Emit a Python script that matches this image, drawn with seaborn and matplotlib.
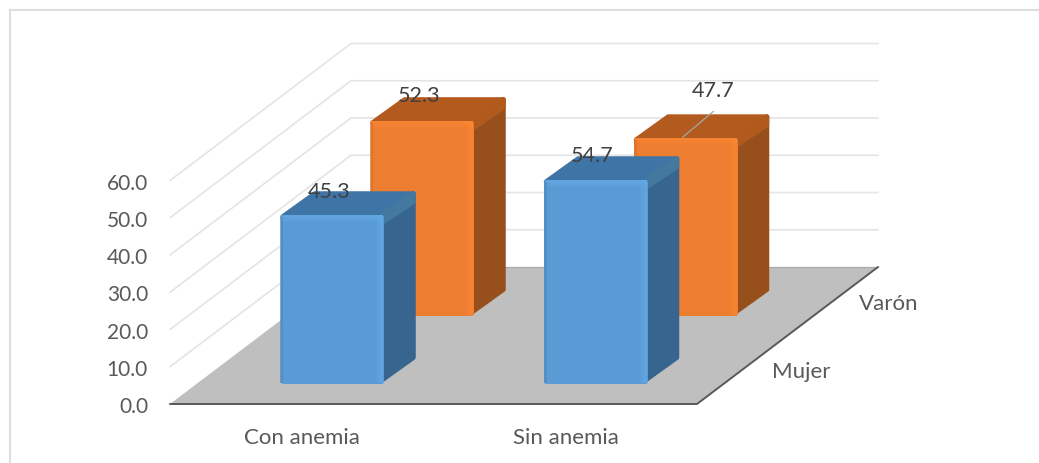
import matplotlib
matplotlib.use("Agg")
import matplotlib.pyplot as plt
import pandas as pd
import seaborn as sns
from matplotlib.lines import Line2D
from matplotlib.patches import Polygon, Rectangle
from matplotlib.transforms import ScaledTranslation

# Chart values
categories = ["Con anemia", "Sin anemia"]
sexes = ["Mujer", "Varón"]
mujer_values = [45.3, 54.7]
varon_values = [52.3, 47.7]
axis_ticks = [0, 10, 20, 30, 40, 50, 60]

W, H = 1039, 463
PX_PER_CAT = 263.5
PX_PER_UNIT = 3.725
ORIGIN_X, ORIGIN_Y = 302, 404   # first category centre, zero line
TEXT_COLOR = "#595959"
LABEL_COLOR = "#404040"


def dx(px):
    return px / PX_PER_CAT


def dy(px):
    return px / PX_PER_UNIT


def pt(px, py):
    """Pixel position to data coordinates."""
    return ((px - ORIGIN_X) / PX_PER_CAT, (ORIGIN_Y - py) / PX_PER_UNIT)


df = pd.DataFrame({
    "categoria": categories * 2,
    "sexo": [sexes[0]] * 2 + [sexes[1]] * 2,
    "valor": mujer_values + varon_values,
})

sns.set_theme(style="white")
plt.rcParams["font.family"] = ["Lato", "DejaVu Sans"]

fig = plt.figure(figsize=(W / 100, H / 100), dpi=100)
ax = fig.add_axes([0, 0, 1, 1])
ax.set_facecolor("none")

BAR_W = 103.5 / PX_PER_CAT
sns.barplot(data=df, x="categoria", y="valor", hue="sexo", hue_order=sexes,
            palette=["#5B9BD5", "#ED7D31"], dodge=False, width=BAR_W,
            legend=False, ax=ax, saturation=1)

ax.set_xlim(pt(0, 0)[0], pt(W, 0)[0])
ax.set_ylim(pt(0, H)[1], pt(0, 0)[1])
ax.set_xlabel("")
ax.set_ylabel("")
sns.despine(ax=ax, left=True, bottom=True)

# Value ticks sit against the left wall, category ticks under the floor
ax.set_yticks(axis_ticks, [f"{t:.1f}" for t in axis_ticks])
ax.tick_params(axis="y", length=0, pad=-148 * 0.72, labelsize=15, labelcolor=TEXT_COLOR)
ax.tick_params(axis="x", length=0, pad=-(463 - 427.5) * 0.72, labelsize=16, labelcolor=TEXT_COLOR)
nudge = ScaledTranslation(0, -1.2 / 100, fig.dpi_scale_trans)
for tick in ax.yaxis.get_major_ticks():
    tick.label1.set_transform(tick.label1.get_transform() + nudge)

# Outer frame: only the left and top rules
for xs, ys in [((9.5, 9.5), (H, 9.5)), ((9.5, W), (9.5, 9.5))]:
    fig.add_artist(Line2D([x / W for x in xs], [1 - y / H for y in ys],
                          color="#DEDEDE", lw=1.5, solid_capstyle="projecting",
                          transform=fig.transFigure))

# Floor and wall grid
FL, FR = 170, 697
DEPTH_X, DEPTH_Y = 181, -137
floor = [pt(FL, ORIGIN_Y), pt(FR, ORIGIN_Y), pt(FR + DEPTH_X, ORIGIN_Y + DEPTH_Y), pt(FL + DEPTH_X, ORIGIN_Y + DEPTH_Y)]
ax.add_patch(Polygon(floor, closed=True, fc="#BFBFBF", ec="none", zorder=1.2))
for t in axis_ticks[1:]:
    py = ORIGIN_Y - t * PX_PER_UNIT
    xs, ys = zip(pt(FL, py), pt(FL + DEPTH_X, py + DEPTH_Y), pt(FR + DEPTH_X, py + DEPTH_Y))
    ax.plot(xs, ys, color="#E4E4E4", lw=1.2, zorder=1, solid_joinstyle="miter")
xs, ys = zip(pt(FL, ORIGIN_Y), pt(FR, ORIGIN_Y), pt(FR + DEPTH_X, ORIGIN_Y + DEPTH_Y))
ax.plot(xs, ys, color="#595959", lw=1.4, zorder=1.3)
xs, ys = zip(pt(FL + DEPTH_X, ORIGIN_Y + DEPTH_Y), pt(FR + DEPTH_X, ORIGIN_Y + DEPTH_Y))
ax.plot(xs, ys, color="#ABABAB", lw=0.9, zorder=1.25)

# Shades per series: top face, side face, side bevel, highlight, shadow edge
SHADES = [
    dict(top="#3F74A6", side="#386590", side_b="#44789F", hi="#66ADEA", lo="#4F8AC0"),
    dict(top="#B35B1F", side="#974F1B", side_b="#B05A1E", hi="#FF8A33", lo="#D9722C"),
]
ROW_SHIFT = [(30, -21), (120, -89)]   # each series stands on its own row of the floor
SIDE_X, SIDE_Y = 32, -23
INSET = 2.5
LW = 2 * INSET * 0.72


def face(points, color, z):
    ax.add_patch(Polygon(points, closed=True, fc=color, ec=color, lw=LW, joinstyle="round", zorder=z))


label_offsets = [[(-3, -22), (-3, -23)], [(-2.5, -24), (28, -46)]]

for row, container in enumerate(ax.containers):
    z = 5 - 2 * row
    s = SHADES[row]
    shift_x, shift_y = ROW_SHIFT[row]
    for i, bar in enumerate(container):
        value = bar.get_height()
        bar.set_x(bar.get_x() + dx(shift_x) + dx(INSET))
        bar.set_width(bar.get_width() - dx(2 * INSET))
        bar.set_y(dy(-shift_y) + dy(INSET))
        bar.set_height(value - dy(2 * INSET))
        bar.set_linewidth(LW)
        bar.set_edgecolor(bar.get_facecolor())
        bar.set_joinstyle("round")
        bar.set_zorder(z + 0.3)

        x0, x1 = bar.get_x(), bar.get_x() + bar.get_width()
        y0, y1 = bar.get_y(), bar.get_y() + bar.get_height()
        sx, sy = dx(SIDE_X), dy(-SIDE_Y)

        # Side and top faces receding from the front face
        face([(x1, y0), (x1 + sx, y0 + sy), (x1 + sx, y1 + sy), (x1, y1)], s["side"], z)
        face([(x0, y1), (x1, y1), (x1 + sx, y1 + sy), (x0 + sx, y1 + sy)], s["top"], z + 0.1)

        # Bevel where top and side meet
        face([(x1 - dx(1), y1), (x1 + dx(2), y1 - dy(5)), (x1 + sx, y1 + sy - dy(8)), (x1 + sx, y1 + sy)], s["side_b"], z + 0.15)

        # Soft highlights along the top and right edges of the front face
        for grow, alpha in [(7, 0.18), (5, 0.25), (3, 0.3)]:
            ax.add_patch(Rectangle((x0 - dx(1.5), y1 + dy(1.5 - grow)), x1 - x0 + dx(3.5), dy(grow), fc=s["hi"], ec="none", alpha=alpha, zorder=z + 0.4))
            ax.add_patch(Rectangle((x1 + dx(2 - grow), y0 - dy(2)), dx(grow), y1 - y0 + dy(3.5), fc=s["hi"], ec="none", alpha=alpha, zorder=z + 0.4))
        ax.add_patch(Rectangle((x0 - dx(2.5), y0 - dy(2)), dx(3), y1 - y0 + dy(2), fc=s["lo"], ec="none", alpha=0.7, zorder=z + 0.4))

        # Value label anchored on the bar's top front edge
        ox, oy = label_offsets[row][i]
        cx = (x0 + x1) / 2
        top = y1 + dy(INSET)
        ax.text(cx + dx(ox), top + dy(-oy), f"{value:.1f}", ha="center", va="center",
                fontsize=15.5, color=LABEL_COLOR, zorder=12)
        if row == 1 and i == 1:
            ax.plot([cx + dx(ox), cx + dx(ox - 31)], [top + dy(26), top + dy(0)],
                    color="#A6A6A6", lw=0.9, zorder=11)

# Depth axis labels
ax.text(*pt(801, 372), sexes[0], ha="center", va="center", fontsize=16, color=TEXT_COLOR)
ax.text(*pt(889, 304), sexes[1], ha="center", va="center", fontsize=16, color=TEXT_COLOR)

fig.savefig("out.png", dpi=100)
